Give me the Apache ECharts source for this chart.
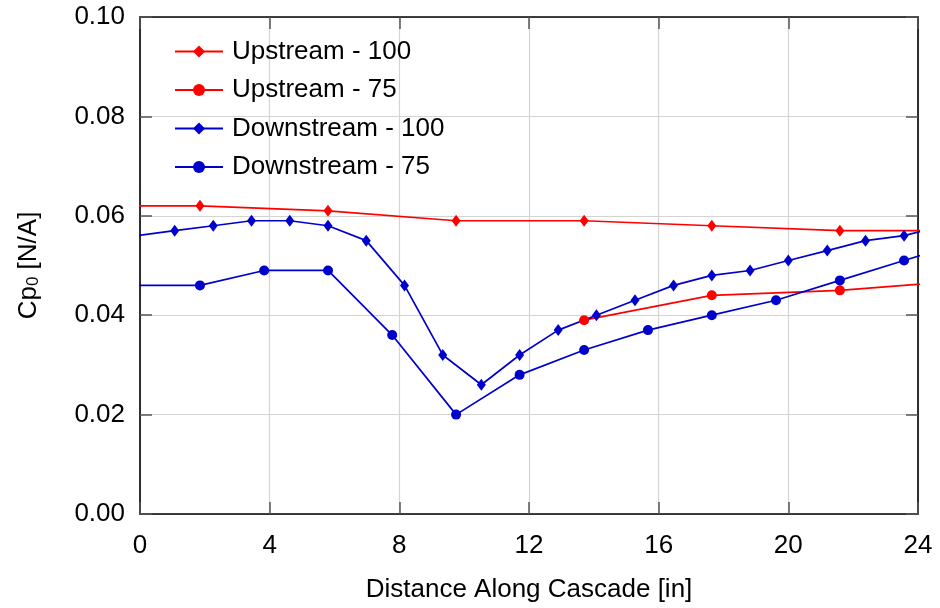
<!DOCTYPE html>
<html>
<head>
<meta charset="utf-8">
<script src="https://cdn.jsdelivr.net/npm/echarts@6/dist/echarts.min.js"></script>
<style>
  html, body { margin: 0; padding: 0; background: #ffffff; }
  #chart { width: 940px; height: 608px; }
</style>
</head>
<body>
<div id="chart"></div>
<script>
// Total pressure loss coefficient along the cascade, upstream and downstream traverses
const upstream100X = [-2.08, 1.85, 5.80, 9.75, 13.70, 17.64, 21.59, 25.54];
const upstream100Y = [0.062, 0.062, 0.061, 0.059, 0.059, 0.058, 0.057, 0.057];

const upstream75X = [13.70, 17.64, 21.59, 25.54];
const upstream75Y = [0.039, 0.044, 0.045, 0.047];

const downstream100X = [-0.11, 1.07, 2.26, 3.44, 4.62, 5.80, 6.98, 8.16, 9.34, 10.53, 11.71,
                        12.90, 14.08, 15.27, 16.46, 17.64, 18.82, 20.00, 21.20, 22.38, 23.57, 24.75];
const downstream100Y = [0.056, 0.057, 0.058, 0.059, 0.059, 0.058, 0.055, 0.046, 0.032, 0.026, 0.032,
                        0.037, 0.040, 0.043, 0.046, 0.048, 0.049, 0.051, 0.053, 0.055, 0.056, 0.058];

const downstream75X = [-0.12, 1.85, 3.83, 5.80, 7.78, 9.75, 11.71, 13.70, 15.67, 17.64, 19.62, 21.59, 23.57, 25.54];
const downstream75Y = [0.046, 0.046, 0.049, 0.049, 0.036, 0.020, 0.028, 0.033, 0.037, 0.040, 0.043, 0.047, 0.051, 0.055];

const seriesNames = ['Upstream - 100', 'Upstream - 75', 'Downstream - 100', 'Downstream - 75'];
const xTicks = [0, 4, 8, 12, 16, 20, 24];
const yTicks = [0.00, 0.02, 0.04, 0.06, 0.08, 0.10];

const RED = '#ff0000';
const BLUE = '#0000cc';
const FONT = 'Liberation Sans, Arial, Helvetica, sans-serif';
const FS = 26;

function pairs(xs, ys) {
  return xs.map((x, i) => [x, ys[i]]);
}

function lineSeries(name, xs, ys, color, symbol, size) {
  return {
    name: name,
    type: 'line',
    xAxisIndex: 0,
    yAxisIndex: 0,
    data: pairs(xs, ys),
    clip: true,
    symbol: symbol,
    symbolSize: size,
    showAllSymbol: true,
    lineStyle: { color: color, width: 1.7 },
    itemStyle: { color: color },
    emphasis: { disabled: true },
    animation: false,
    z: 3
  };
}

const chart = echarts.init(document.getElementById('chart'), null, { renderer: 'canvas' });

const tickStyle = { show: true, inside: true, length: 12, lineStyle: { color: '#555555', width: 1.5 } };
const gridLine = { show: true, lineStyle: { color: '#d4d4d4', width: 1.2 } };
const boxLine = { show: true, onZero: false, lineStyle: { color: '#000000', width: 1.6 } };

const option = {
  backgroundColor: '#ffffff',
  animation: false,
  textStyle: { fontFamily: FONT },
  grid: { left: 140, top: 17, right: 22, bottom: 94, containLabel: false },
  legend: {
    show: true,
    orient: 'vertical',
    left: 169,
    top: 32,
    itemWidth: 48,
    itemHeight: 15,
    itemGap: 9.5,
    data: seriesNames,
    textStyle: { fontSize: FS, color: '#000000', fontFamily: FONT, lineHeight: 29, padding: [0, 0, 0, 4] },
    selectedMode: false
  },
  xAxis: [
    {
      type: 'value',
      position: 'bottom',
      min: xTicks[0],
      max: xTicks[xTicks.length - 1],
      interval: 4,
      axisLine: boxLine,
      axisTick: tickStyle,
      splitLine: gridLine,
      axisLabel: { show: true, margin: 19, fontSize: FS, color: '#000000', fontFamily: FONT },
      name: 'Distance Along Cascade [in]',
      nameLocation: 'middle',
      nameGap: 63,
      nameTextStyle: { fontSize: FS, color: '#000000', fontFamily: FONT }
    },
    {
      type: 'value',
      position: 'top',
      min: xTicks[0],
      max: xTicks[xTicks.length - 1],
      interval: 4,
      axisLine: boxLine,
      axisTick: tickStyle,
      splitLine: { show: false },
      axisLabel: { show: false }
    }
  ],
  yAxis: [
    {
      type: 'value',
      position: 'left',
      min: yTicks[0],
      max: yTicks[yTicks.length - 1],
      interval: 0.02,
      axisLine: boxLine,
      axisTick: tickStyle,
      splitLine: gridLine,
      axisLabel: {
        show: true, margin: 15, fontSize: FS, color: '#000000', fontFamily: FONT,
        formatter: v => v.toFixed(2)
      },
      name: '{n|Cp}{s|0}{n| [N/A]}',
      nameLocation: 'middle',
      nameGap: 98,
      nameRotate: 90,
      nameTextStyle: {
        color: '#000000',
        fontFamily: FONT,
        rich: {
          n: { fontSize: FS, color: '#000000', fontFamily: FONT, lineHeight: 30, verticalAlign: 'bottom' },
          s: { fontSize: 17, color: '#000000', fontFamily: FONT, lineHeight: 17, verticalAlign: 'bottom' }
        }
      }
    },
    {
      type: 'value',
      position: 'right',
      min: yTicks[0],
      max: yTicks[yTicks.length - 1],
      interval: 0.02,
      axisLine: boxLine,
      axisTick: tickStyle,
      splitLine: { show: false },
      axisLabel: { show: false }
    }
  ],
  series: [
    lineSeries(seriesNames[0], upstream100X, upstream100Y, RED, 'diamond', [9, 12]),
    lineSeries(seriesNames[1], upstream75X, upstream75Y, RED, 'circle', 10),
    lineSeries(seriesNames[2], downstream100X, downstream100Y, BLUE, 'diamond', [9, 12]),
    lineSeries(seriesNames[3], downstream75X, downstream75Y, BLUE, 'circle', 10)
  ]
};

chart.setOption(option);
</script>
</body>
</html>
